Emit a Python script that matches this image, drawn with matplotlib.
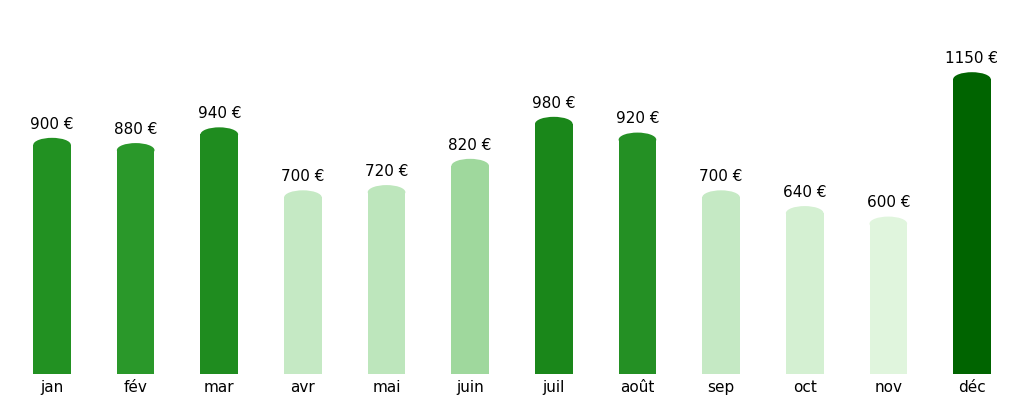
import matplotlib
matplotlib.use("Agg")
import matplotlib.pyplot as plt
from matplotlib.patches import Ellipse, Rectangle

months = ["jan", "fév", "mar", "avr", "mai", "juin", "juil", "août", "sep", "oct", "nov", "déc"]
values = [900, 880, 940, 700, 720, 820, 980, 920, 700, 640, 600, 1150]
colors = ["#229122", "#2a982a", "#1f8c1f", "#c5e9c4", "#bde6bc", "#9fd89d",
          "#1a871a", "#249024", "#c5e9c4", "#d4f0d2", "#e0f5dd", "#006400"]

fig = plt.figure(figsize=(10.24, 4.04), dpi=100)
ax = fig.add_axes([0.01, 0.074, 0.98, 0.926])
ax.set_xlim(-0.5, 11.5)
ax.set_ylim(0, 1425)

width = 0.45
cap = 54
for i, (v, c) in enumerate(zip(values, colors)):
    ax.add_patch(Rectangle((i - width / 2, 0), width, v - cap / 2, color=c, lw=0))
    ax.add_patch(Ellipse((i, v - cap / 2), width, cap, color=c, lw=0))
    ax.text(i, v + 24, f"{v} €", ha="center", va="bottom", fontsize=11)

ax.set_xticks(range(len(months)))
ax.set_xticklabels(months, fontsize=11)
ax.tick_params(length=0, pad=4)
ax.set_yticks([])
for s in ax.spines.values():
    s.set_visible(False)

fig.savefig("out.png", dpi=100)
